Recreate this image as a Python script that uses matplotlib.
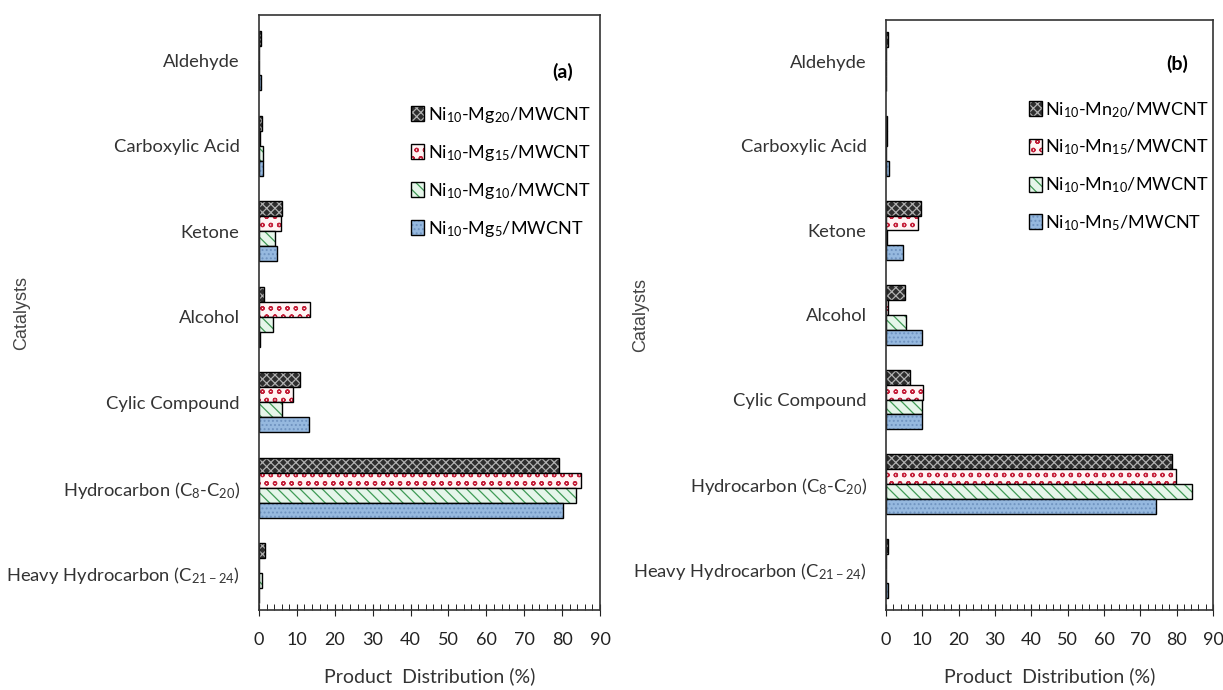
import numpy as np
import matplotlib
matplotlib.use('Agg')
import matplotlib.pyplot as plt
from matplotlib.ticker import MultipleLocator

plt.rcParams['font.family'] = ['Lato', 'DejaVu Sans']
plt.rcParams['mathtext.fontset'] = 'custom'
plt.rcParams['mathtext.rm'] = 'Lato'
plt.rcParams['mathtext.default'] = 'rm'
plt.rcParams['hatch.linewidth'] = 0.9

# categories, bottom to top
categories = ['Heavy Hydrocarbon (C$_{21-24}$)', 'Hydrocarbon (C$_{8}$-C$_{20}$)',
              'Cylic Compound', 'Alcohol', 'Ketone', 'Carboxylic Acid', 'Aldehyde']

# panel (a) Ni-Mg
mg20 = [1.7, 79.3, 10.9, 1.2, 6.1, 0.8, 0.5]
mg15 = [0.0, 85.1, 8.9, 13.4, 5.7, 0.2, 0.0]
mg10 = [0.9, 83.7, 6.1, 3.7, 4.2, 1.0, 0.0]
mg5 = [0.0, 80.3, 13.2, 0.3, 4.8, 1.0, 0.5]
mg_labels = ['Ni$_{10}$-Mg$_{20}$/MWCNT', 'Ni$_{10}$-Mg$_{15}$/MWCNT',
             'Ni$_{10}$-Mg$_{10}$/MWCNT', 'Ni$_{10}$-Mg$_{5}$/MWCNT']

# panel (b) Ni-Mn
mn20 = [0.5, 78.6, 6.6, 5.1, 9.5, 0.3, 0.5]
mn15 = [0.0, 79.9, 10.1, 0.6, 8.7, 0.3, 0.0]
mn10 = [0.0, 84.3, 9.8, 5.5, 0.3, 0.0, 0.0]
mn5 = [0.4, 74.4, 9.8, 9.8, 4.6, 0.8, 0.0]
mn_labels = ['Ni$_{10}$-Mn$_{20}$/MWCNT', 'Ni$_{10}$-Mn$_{15}$/MWCNT',
             'Ni$_{10}$-Mn$_{10}$/MWCNT', 'Ni$_{10}$-Mn$_{5}$/MWCNT']

# (face, hatch colour, hatch)
styles = [('#2e2e2e', '#b0b0b0', 'xxxx'),
          ('#fff4f4', '#c4203a', 'oo'),
          ('#e6f6ea', '#3f9a55', '\\\\\\'),
          ('#96b9df', '#6f93c0', '....')]

bar_h = 0.175
offsets = [1.5, 0.5, -0.5, -1.5]


def draw_panel(ax, series, labels, tag, ylim, leg_anchor, tag_pos, ylab_x):
    y = np.arange(len(categories))
    handles = []
    for vals, off, (face, hc, hatch) in zip(series, offsets, styles):
        p1 = ax.barh(y + off * bar_h, vals, bar_h, color=face, edgecolor=hc,
                     hatch=hatch, linewidth=0)
        p2 = ax.barh(y + off * bar_h, vals, bar_h, fill=False, edgecolor='black',
                     linewidth=1.0)
        handles.append((p1[0], p2[0]))
    ax.set_yticks(y)
    ax.set_yticklabels(categories, fontsize=13.2, color='#333333')
    ax.tick_params(axis='y', length=0, pad=14)
    ax.set_xlim(0, 90)
    ax.set_ylim(*ylim)
    ax.xaxis.set_major_locator(MultipleLocator(10))
    ax.xaxis.set_minor_locator(MultipleLocator(2))
    ax.tick_params(axis='x', which='major', direction='inout', length=8,
                   labelsize=13, colors='#222222', pad=12)
    ax.tick_params(axis='x', which='minor', direction='in', length=4)
    for s in ax.spines.values():
        s.set_color('#333333')
        s.set_linewidth(1.2)
    ax.set_xlabel('Product  Distribution (%)', fontsize=14, color='#333333',
                  labelpad=14)
    ax.set_ylabel('Catalysts', fontsize=13, color='#444444',
                  family=['Liberation Sans', 'DejaVu Sans'])
    ax.yaxis.set_label_coords(ylab_x, 0.5)
    ax.text(tag_pos[0], tag_pos[1], tag, transform=ax.transAxes, fontsize=14,
            fontweight='bold', ha='center', va='center')
    ax.legend(handles, labels, loc='upper left', bbox_to_anchor=leg_anchor,
              frameon=False, fontsize=13, handlelength=0.7, handleheight=0.9,
              handletextpad=0.2, labelspacing=1.0, borderpad=0)


fig = plt.figure(figsize=(12.23, 6.9), dpi=100)
ax1 = fig.add_axes([0.2118, 0.116, 0.2788, 0.862])
ax2 = fig.add_axes([0.7245, 0.116, 0.2673, 0.855])

draw_panel(ax1, [mg20, mg15, mg10, mg5], mg_labels, '(a)', (-0.43, 6.53),
           (0.42, 0.865), (0.89, 0.905), -0.67)
draw_panel(ax2, [mn20, mn15, mn10, mn5], mn_labels, '(b)', (-0.49, 6.49),
           (0.41, 0.88), (0.89, 0.925), -0.725)

fig.savefig('out.png', dpi=100)
